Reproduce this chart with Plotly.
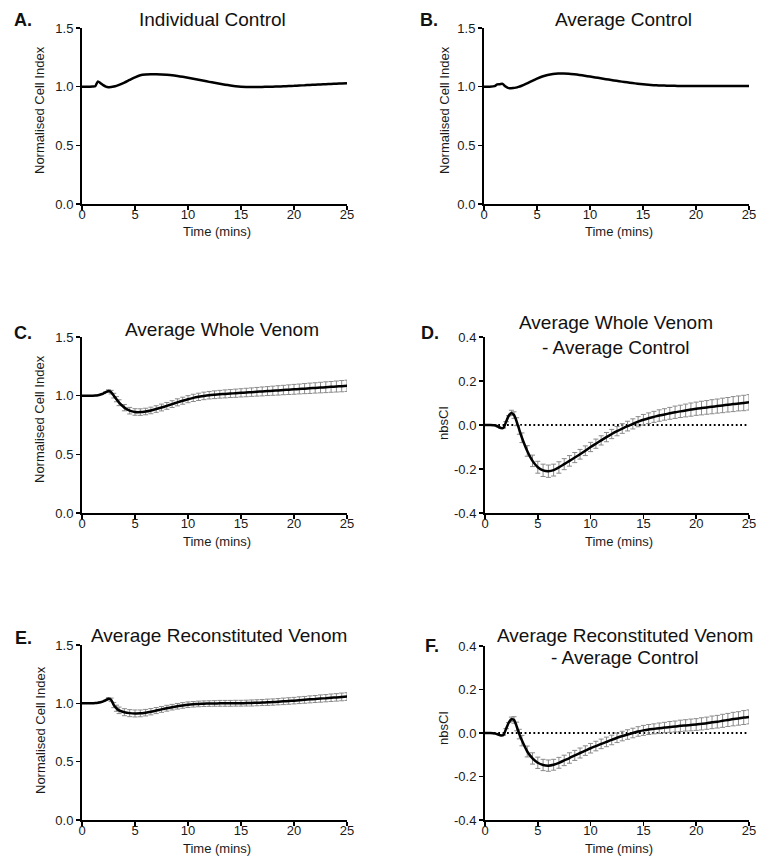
import plotly.graph_objects as go

W, H = 757, 856

# ---------------- data ----------------
time_min = [0, 0.5, 1, 1.25, 1.5, 1.75, 2, 2.25, 2.5, 2.75, 3, 3.25, 3.5,
            4, 4.5, 5, 5.5, 6, 6.5, 7, 7.5, 8, 8.5, 9, 9.5, 10, 10.5, 11, 11.5,
            12, 12.5, 13, 13.5, 14, 14.5, 15, 15.5, 16, 16.5, 17, 17.5, 18, 18.5,
            19, 19.5, 20, 20.5, 21, 21.5, 22, 22.5, 23, 23.5, 24, 24.5, 25]

individual_control = [1.000, 1.000, 1.002, 1.004, 1.045, 1.030, 1.013, 1.001, 0.996, 0.997, 1.001, 1.007, 1.015,
                      1.035, 1.058, 1.080, 1.097, 1.103, 1.105, 1.105, 1.104, 1.101, 1.097, 1.091, 1.084, 1.076, 1.068,
                      1.059, 1.050, 1.041, 1.033, 1.025, 1.017, 1.010, 1.004, 1.000, 0.998, 0.997, 0.997, 0.998, 0.999,
                      1.000, 1.001, 1.003, 1.005, 1.007, 1.010, 1.012, 1.015, 1.017, 1.019, 1.021, 1.023, 1.025, 1.027, 1.029]

average_control = [1.000, 1.000, 1.004, 1.020, 1.021, 1.024, 1.003, 0.990, 0.987, 0.988, 0.992, 0.998, 1.006,
                   1.025, 1.047, 1.068, 1.087, 1.100, 1.108, 1.112, 1.113, 1.111, 1.106, 1.100, 1.093, 1.086, 1.079,
                   1.072, 1.064, 1.057, 1.050, 1.043, 1.037, 1.031, 1.025, 1.020, 1.016, 1.013, 1.011, 1.009, 1.008,
                   1.007, 1.006, 1.006, 1.006, 1.005, 1.005, 1.005, 1.005, 1.005, 1.005, 1.005, 1.005, 1.005, 1.005, 1.005]

whole_venom = [1.000, 1.000, 1.000, 1.001, 1.004, 1.010, 1.018, 1.030, 1.040, 1.030, 1.000, 0.970, 0.940,
               0.898, 0.872, 0.861, 0.860, 0.865, 0.874, 0.886, 0.899, 0.913, 0.928, 0.943, 0.957, 0.970, 0.981,
               0.990, 0.998, 1.004, 1.008, 1.012, 1.015, 1.018, 1.021, 1.024, 1.027, 1.030, 1.033, 1.036, 1.039,
               1.042, 1.045, 1.048, 1.051, 1.054, 1.057, 1.060, 1.063, 1.066, 1.069, 1.072, 1.075, 1.078, 1.081, 1.084]
whole_venom_err = [0, 0, 0, 0, 0, 0, 0, 0, 0.010, 0.015, 0.020, 0.022, 0.025,
                   0.027, 0.028, 0.028, 0.028, 0.028, 0.028, 0.028, 0.029, 0.029, 0.029, 0.030, 0.030, 0.030, 0.031,
                   0.031, 0.032, 0.032, 0.033, 0.033, 0.034, 0.034, 0.035, 0.035, 0.036, 0.036, 0.037, 0.038, 0.038,
                   0.039, 0.040, 0.040, 0.041, 0.042, 0.042, 0.043, 0.044, 0.044, 0.045, 0.046, 0.046, 0.047, 0.048, 0.048]

whole_minus_control = [0, 0, -0.002, -0.008, -0.014, -0.013, 0.015, 0.042, 0.055, 0.045, 0.015, -0.022, -0.058,
                       -0.118, -0.163, -0.192, -0.206, -0.210, -0.205, -0.193, -0.178, -0.163, -0.148, -0.133, -0.117, -0.100, -0.085,
                       -0.070, -0.055, -0.041, -0.028, -0.016, -0.005, 0.005, 0.015, 0.024, 0.031, 0.037, 0.043, 0.048, 0.053,
                       0.058, 0.062, 0.066, 0.070, 0.074, 0.077, 0.080, 0.083, 0.086, 0.089, 0.092, 0.095, 0.098, 0.100, 0.103]
whole_minus_control_err = [0, 0, 0, 0, 0, 0, 0, 0, 0.012, 0.015, 0.018, 0.020, 0.022,
                           0.024, 0.026, 0.027, 0.028, 0.028, 0.027, 0.026, 0.025, 0.024, 0.023, 0.022, 0.022, 0.021, 0.021,
                           0.021, 0.021, 0.021, 0.021, 0.022, 0.022, 0.023, 0.023, 0.024, 0.024, 0.025, 0.026, 0.026, 0.027,
                           0.028, 0.028, 0.029, 0.030, 0.030, 0.031, 0.031, 0.032, 0.032, 0.033, 0.033, 0.034, 0.034, 0.035, 0.035]

reconstituted_venom = [1.000, 1.000, 1.000, 1.002, 1.005, 1.010, 1.017, 1.027, 1.040, 1.030, 0.985, 0.958, 0.940,
                       0.924, 0.916, 0.913, 0.914, 0.920, 0.928, 0.938, 0.948, 0.958, 0.967, 0.975, 0.982, 0.988, 0.992,
                       0.995, 0.997, 0.998, 0.999, 1.000, 1.000, 1.000, 1.001, 1.001, 1.002, 1.003, 1.005, 1.007, 1.009,
                       1.011, 1.014, 1.017, 1.020, 1.023, 1.027, 1.030, 1.034, 1.037, 1.041, 1.044, 1.048, 1.051, 1.055, 1.058]
reconstituted_venom_err = [0, 0, 0, 0, 0, 0, 0, 0, 0.008, 0.015, 0.022, 0.026, 0.028,
                           0.030, 0.030, 0.030, 0.029, 0.028, 0.027, 0.026, 0.025, 0.025, 0.024, 0.024, 0.024, 0.024, 0.024,
                           0.024, 0.024, 0.024, 0.024, 0.025, 0.025, 0.025, 0.025, 0.025, 0.025, 0.026, 0.026, 0.026, 0.027,
                           0.027, 0.027, 0.028, 0.028, 0.028, 0.029, 0.029, 0.030, 0.030, 0.031, 0.031, 0.032, 0.032, 0.033, 0.033]

reconstituted_minus_control = [0, 0, -0.003, -0.007, -0.011, -0.009, 0.020, 0.048, 0.063, 0.060, 0.030, -0.005, -0.035,
                               -0.085, -0.117, -0.137, -0.147, -0.150, -0.146, -0.137, -0.126, -0.115, -0.103, -0.092, -0.081, -0.070, -0.060,
                               -0.050, -0.041, -0.032, -0.022, -0.014, -0.007, 0.000, 0.007, 0.012, 0.016, 0.019, 0.022, 0.025, 0.028,
                               0.030, 0.033, 0.035, 0.037, 0.039, 0.042, 0.045, 0.049, 0.052, 0.056, 0.060, 0.064, 0.067, 0.071, 0.074]
reconstituted_minus_control_err = [0, 0, 0, 0, 0, 0, 0, 0, 0.010, 0.015, 0.020, 0.022, 0.024,
                                   0.025, 0.026, 0.026, 0.026, 0.026, 0.025, 0.025, 0.024, 0.024, 0.023, 0.023, 0.022, 0.022, 0.022,
                                   0.022, 0.022, 0.022, 0.022, 0.022, 0.022, 0.022, 0.022, 0.023, 0.023, 0.023, 0.024, 0.024, 0.025,
                                   0.025, 0.026, 0.026, 0.027, 0.027, 0.028, 0.028, 0.029, 0.029, 0.030, 0.030, 0.031, 0.031, 0.032, 0.032]

x_ticks = [0, 5, 10, 15, 20, 25]
nci_ticks = [0.0, 0.5, 1.0, 1.5]
nbs_ticks = [-0.4, -0.2, 0.0, 0.2, 0.4]

FONT = "Liberation Sans, Arial, sans-serif"

# panel geometry in pixels: (left, right, top, bottom)
panels = [
    dict(box=(82, 347, 28, 204), y=individual_control, err=None, yr=[0, 1.5], yt=nci_ticks, yl="Normalised Cell Index",
         title=["Individual Control"], tpos=(212, [20]), label="A.", lpos=(23, 20), ytx=40, yty=110, zero=False),
    dict(box=(484, 749, 28, 204), y=average_control, err=None, yr=[0, 1.5], yt=nci_ticks, yl="Normalised Cell Index",
         title=["Average Control"], tpos=(623, [20]), label="B.", lpos=(429, 20), ytx=445, yty=110, zero=False),
    dict(box=(82, 347, 337, 513), y=whole_venom, err=whole_venom_err, yr=[0, 1.5], yt=nci_ticks, yl="Normalised Cell Index",
         title=["Average Whole Venom"], tpos=(222, [329]), label="C.", lpos=(23, 333), ytx=40, yty=419, zero=False),
    dict(box=(485, 749, 337, 513), y=whole_minus_control, err=whole_minus_control_err, yr=[-0.4, 0.4], yt=nbs_ticks, yl="nbsCI",
         title=["Average Whole Venom", "- Average Control"], tpos=(616, [323, 347]), label="D.", lpos=(430, 333), ytx=443, yty=423, zero=True),
    dict(box=(82, 347, 645, 820), y=reconstituted_venom, err=reconstituted_venom_err, yr=[0, 1.5], yt=nci_ticks, yl="Normalised Cell Index",
         title=["Average Reconstituted Venom"], tpos=(219, [635]), label="E.", lpos=(23, 638), ytx=40, yty=730, zero=False),
    dict(box=(485, 749, 646, 820), y=reconstituted_minus_control, err=reconstituted_minus_control_err, yr=[-0.4, 0.4], yt=nbs_ticks, yl="nbsCI",
         title=["Average Reconstituted Venom", "- Average Control"], tpos=(625, [635, 657]), label="F.", lpos=(432, 646), ytx=443, yty=728, zero=True),
]

fig = go.Figure()
layout = dict(width=W, height=H, autosize=False,
              margin=dict(l=0, r=0, t=0, b=0, pad=0, autoexpand=False),
              paper_bgcolor="white", plot_bgcolor="white", showlegend=False,
              font=dict(family=FONT, color="#1a1a1a"))
annotations = []

def px_x(v):
    return v / W

def px_y(v):
    return 1 - v / H

tickfont = dict(family=FONT, size=13, color="#1a1a1a")
NP = len(panels)

for i, p in enumerate(panels):
    n = i + 1
    xa = "xaxis" if n == 1 else f"xaxis{n}"
    ya = "yaxis" if n == 1 else f"yaxis{n}"
    xr = "x" if n == 1 else f"x{n}"
    yr = "y" if n == 1 else f"y{n}"
    l, r, t, b = p["box"]
    axis_common = dict(showline=True, linecolor="black", linewidth=2, ticks="outside", ticklen=4,
                       tickwidth=1.6, tickcolor="black", showgrid=False, zeroline=False,
                       tickfont=tickfont, fixedrange=True, automargin=False)
    # primary x axis: line + tick marks
    layout[xa] = dict(domain=[px_x(l), px_x(r)], range=[0, 25], tickvals=x_ticks,
                      showticklabels=False, anchor=yr, **axis_common)
    # overlay x axis carrying the tick labels (placed closer to the axis line)
    lab_n = n + NP
    lab_ref = f"x{lab_n}"
    layout[f"xaxis{lab_n}"] = dict(domain=[px_x(l), px_x(r)], range=[0, 25], tickvals=x_ticks,
                                   ticktext=[str(v) for v in x_ticks], anchor=yr, overlaying=xr,
                                   showline=False, ticks="", showgrid=False, zeroline=False,
                                   tickfont=tickfont, ticklabelstandoff=1, fixedrange=True,
                                   automargin=False, side="bottom")
    layout[ya] = dict(domain=[px_y(b), px_y(t)], range=p["yr"], tickvals=p["yt"],
                      ticktext=[f"{v:.1f}" for v in p["yt"]], anchor=xr, **axis_common)

    # invisible carrier so the label axis is rendered
    fig.add_trace(go.Scatter(x=[time_min[0]], y=[p["y"][0]], mode="markers", xaxis=lab_ref, yaxis=yr,
                             marker=dict(size=1, color="rgba(0,0,0,0)"), hoverinfo="skip"))

    if p["zero"]:
        fig.add_trace(go.Scatter(x=[0, 25], y=[0, 0], mode="lines", xaxis=xr, yaxis=yr,
                                 line=dict(color="black", width=1.8, dash="1.8px,2.6px"), hoverinfo="skip"))
    if p["err"] is not None:
        fig.add_trace(go.Scatter(x=time_min, y=p["y"], mode="markers", xaxis=xr, yaxis=yr,
                                 marker=dict(size=1, color="rgba(0,0,0,0)"),
                                 error_y=dict(type="data", array=p["err"], visible=True,
                                              color="#8a8a8a", thickness=1, width=2.5),
                                 hoverinfo="skip"))
    fig.add_trace(go.Scatter(x=time_min, y=p["y"], mode="lines", xaxis=xr, yaxis=yr,
                             line=dict(color="black", width=2.5, shape="spline", smoothing=0.6)))

    # titles
    tx, tys = p["tpos"]
    for line, ty in zip(p["title"], tys):
        annotations.append(dict(text=line, x=px_x(tx), y=px_y(ty), xref="paper", yref="paper",
                                xanchor="center", yanchor="middle", showarrow=False,
                                font=dict(family=FONT, size=19, color="#111")))
    # panel label
    lx, ly = p["lpos"]
    annotations.append(dict(text=f"<b>{p['label']}</b>", x=px_x(lx), y=px_y(ly), xref="paper", yref="paper",
                            xanchor="center", yanchor="middle", showarrow=False,
                            font=dict(family=FONT, size=18, color="#111")))
    # y axis title
    annotations.append(dict(text=p["yl"], x=px_x(p["ytx"]), y=px_y(p["yty"]), xref="paper", yref="paper",
                            xanchor="center", yanchor="middle", textangle=-90, showarrow=False,
                            font=dict(family=FONT, size=13, color="#1a1a1a")))
    # x axis title
    annotations.append(dict(text="Time (mins)", x=px_x((l + r) / 2 + 2), y=px_y(b + 28), xref="paper", yref="paper",
                            xanchor="center", yanchor="middle", showarrow=False,
                            font=dict(family=FONT, size=13, color="#1a1a1a")))

layout["annotations"] = annotations
fig.update_layout(**layout)
fig.write_html("out.html",
               config={"displayModeBar": False, "staticPlot": True},
               post_script="document.body.style.margin='0';document.body.style.padding='0';"
                           "document.documentElement.style.overflow='hidden';")
